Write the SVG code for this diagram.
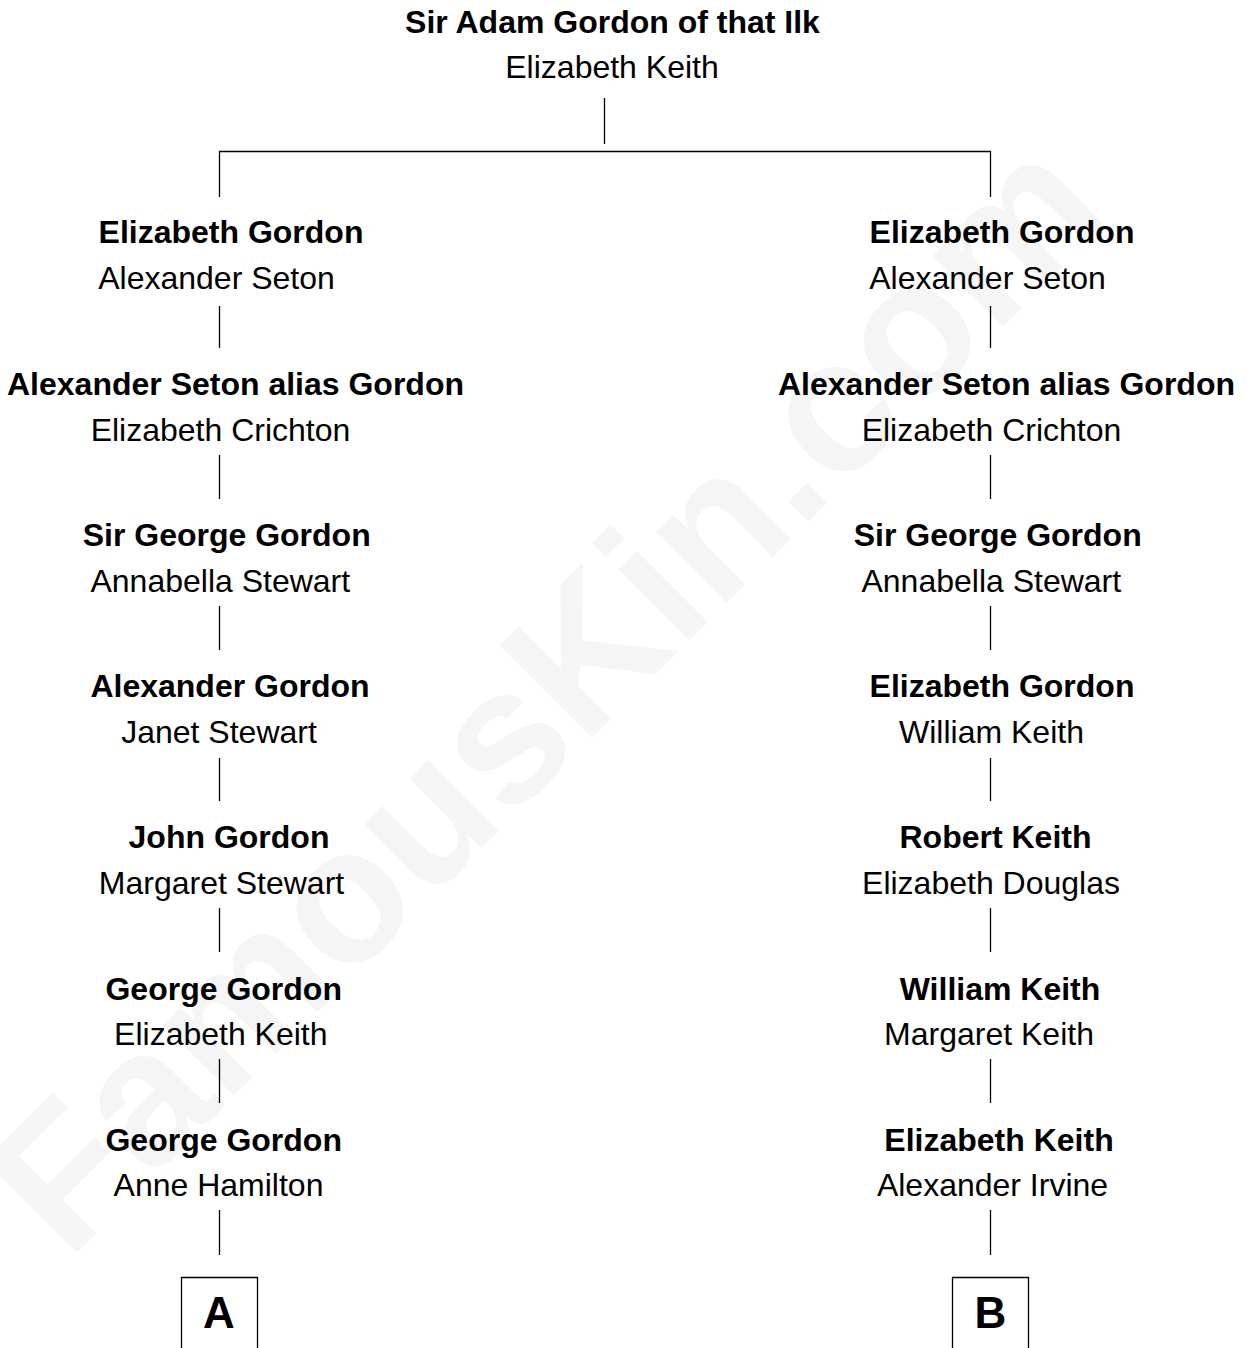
<svg xmlns="http://www.w3.org/2000/svg" width="1247" height="1348" viewBox="0 0 1247 1348">
<style>
text{font-family:"Liberation Sans",Arial,sans-serif;font-size:32px;fill:#000;text-anchor:middle}
.b{font-weight:bold}
.wm{font-weight:bold;font-size:190px;fill:#f5f5f5;text-anchor:start}
.c line,.c polyline{stroke:#000;stroke-width:1.3;fill:none}
.box{fill:none;stroke:#000;stroke-width:1.3}
.lt{font-weight:bold;font-size:44px}
</style>
<rect width="1247" height="1348" fill="#fff"/>
<text class="wm" x="68" y="1262" transform="rotate(-45 68 1262)">FamousKin.com</text>
<g id="connectors" class="c">
<line x1="604.5" y1="98" x2="604.5" y2="144"/>
<polyline points="219.5,197 219.5,151.5 990.5,151.5 990.5,197"/>
<line x1="219.5" y1="306" x2="219.5" y2="348"/>
<line x1="219.5" y1="455" x2="219.5" y2="499"/>
<line x1="219.5" y1="606" x2="219.5" y2="650"/>
<line x1="219.5" y1="758" x2="219.5" y2="801"/>
<line x1="219.5" y1="908" x2="219.5" y2="952"/>
<line x1="219.5" y1="1059" x2="219.5" y2="1103"/>
<line x1="219.5" y1="1210" x2="219.5" y2="1255"/>
<line x1="990.5" y1="306" x2="990.5" y2="348"/>
<line x1="990.5" y1="455" x2="990.5" y2="499"/>
<line x1="990.5" y1="606" x2="990.5" y2="650"/>
<line x1="990.5" y1="758" x2="990.5" y2="801"/>
<line x1="990.5" y1="908" x2="990.5" y2="952"/>
<line x1="990.5" y1="1059" x2="990.5" y2="1103"/>
<line x1="990.5" y1="1210" x2="990.5" y2="1255"/>
</g>
<g id="n0"><text class="b" x="612.5" y="33">Sir Adam Gordon of that Ilk</text><text x="612" y="78">Elizabeth Keith</text></g>
<g id="L1"><text class="b" x="231" y="243">Elizabeth Gordon</text><text x="216.5" y="289">Alexander Seton</text></g>
<g id="L2"><text class="b" x="235.5" y="394.5">Alexander Seton alias Gordon</text><text x="220.5" y="440.5">Elizabeth Crichton</text></g>
<g id="L3"><text class="b" x="226.7" y="546">Sir George Gordon</text><text x="220.3" y="591.5">Annabella Stewart</text></g>
<g id="L4"><text class="b" x="230" y="697">Alexander Gordon</text><text x="219" y="742.5">Janet Stewart</text></g>
<g id="L5"><text class="b" x="229" y="848">John Gordon</text><text x="221.5" y="893.5">Margaret Stewart</text></g>
<g id="L6"><text class="b" x="223.7" y="999.5">George Gordon</text><text x="220.8" y="1044.5">Elizabeth Keith</text></g>
<g id="L7"><text class="b" x="223.7" y="1150.5">George Gordon</text><text x="218.5" y="1195.5">Anne Hamilton</text></g>
<g id="A"><polyline class="box" points="181.5,1350 181.5,1277.5 257.5,1277.5 257.5,1350"/><text class="lt" x="219" y="1328">A</text></g>
<g id="R1"><text class="b" x="1002" y="243">Elizabeth Gordon</text><text x="987.5" y="289">Alexander Seton</text></g>
<g id="R2"><text class="b" x="1006.5" y="394.5">Alexander Seton alias Gordon</text><text x="991.5" y="440.5">Elizabeth Crichton</text></g>
<g id="R3"><text class="b" x="997.7" y="546">Sir George Gordon</text><text x="991.3" y="591.5">Annabella Stewart</text></g>
<g id="R4"><text class="b" x="1002" y="697">Elizabeth Gordon</text><text x="991.5" y="742.5">William Keith</text></g>
<g id="R5"><text class="b" x="995.5" y="848">Robert Keith</text><text x="991" y="893.5">Elizabeth Douglas</text></g>
<g id="R6"><text class="b" x="1000" y="999.5">William Keith</text><text x="989" y="1044.5">Margaret Keith</text></g>
<g id="R7"><text class="b" x="999" y="1150.5">Elizabeth Keith</text><text x="992.5" y="1195.5">Alexander Irvine</text></g>
<g id="B"><polyline class="box" points="952.5,1350 952.5,1277.5 1028.5,1277.5 1028.5,1350"/><text class="lt" x="990.3" y="1328">B</text></g>
</svg>
